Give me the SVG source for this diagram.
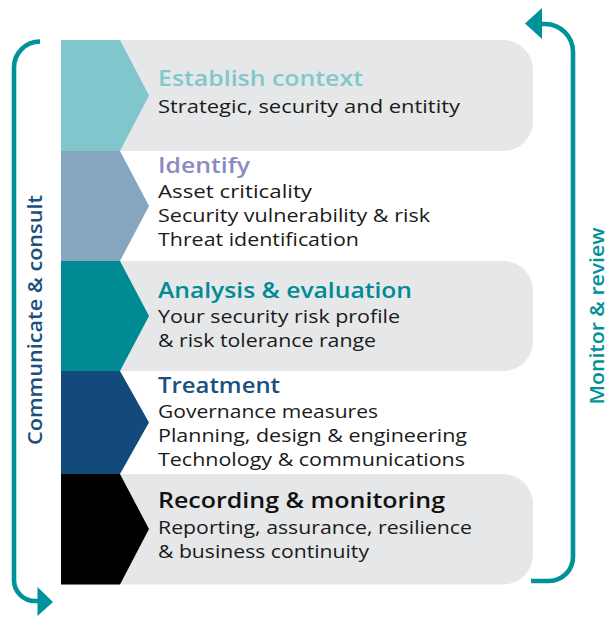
<svg xmlns="http://www.w3.org/2000/svg" width="613" height="617" viewBox="0 0 613 617">
<style>
.bg{fill:#e6e7e8}
.h{font-family:"Open Sans","Liberation Sans",sans-serif;font-size:21px;font-weight:600}
.t{font-family:"Open Sans","Liberation Sans",sans-serif;font-size:18.5px;fill:#1a1a1a}
.side{font-family:"Open Sans","Liberation Sans",sans-serif;font-size:20px;font-weight:600;text-anchor:middle}
.arrow{fill:none;stroke:#00929a;stroke-width:4.6}
</style>
<rect width="613" height="617" fill="#ffffff"/>
<g id="connectors">
<path class="arrow" d="M40 41.5 A26 26 0 0 0 14 67.5 L14 580 A21 21 0 0 0 35 601 L39 601"/>
<polygon points="37.5,587 53,602 37.5,616" fill="#00929a"/>
<path class="arrow" d="M531 581 L549 581 A24 24 0 0 0 573 557 L573 52 A28 28 0 0 0 545 24 L540 24"/>
<polygon points="542,8 525,23.5 542,39" fill="#00929a"/>
</g>
<g id="establish">
<path class="bg" d="M61 40 H503 A30 30 0 0 1 533 70 V121 A30 30 0 0 1 503 151 H61 Z"/>
<polygon points="61,40 120,40 149,95.5 120,151 61,151" fill="#80c6cc"/>
<text class="h" x="158" y="86" fill="#80c8cc" textLength="205" lengthAdjust="spacingAndGlyphs">Establish context</text>
<text class="t" x="158" y="113" textLength="302" lengthAdjust="spacingAndGlyphs">Strategic, security and entitity</text>
</g>
<g id="identify">
<polygon points="61,151 120,151 149,206 120,261 61,261" fill="#86a5be"/>
<text class="h" x="158" y="173" fill="#8b8bc2" textLength="92" lengthAdjust="spacingAndGlyphs">Identify</text>
<text class="t" x="158" y="198" textLength="154" lengthAdjust="spacingAndGlyphs">Asset criticality</text>
<text class="t" x="158" y="222" textLength="272" lengthAdjust="spacingAndGlyphs">Security vulnerability &amp; risk</text>
<text class="t" x="158" y="246" textLength="201" lengthAdjust="spacingAndGlyphs">Threat identification</text>
</g>
<g id="analysis">
<path class="bg" d="M61 261 H503 A30 30 0 0 1 533 291 V341 A30 30 0 0 1 503 371 H61 Z"/>
<polygon points="61,261 120,261 149,316 120,371 61,371" fill="#008b94"/>
<text class="h" x="158" y="298" fill="#008b94" textLength="254" lengthAdjust="spacingAndGlyphs">Analysis &amp; evaluation</text>
<text class="t" x="158" y="323" textLength="242" lengthAdjust="spacingAndGlyphs">Your security risk profile</text>
<text class="t" x="158" y="347" textLength="218" lengthAdjust="spacingAndGlyphs">&amp; risk tolerance range</text>
</g>
<g id="treatment">
<polygon points="61,371 120,371 149,422.5 120,474 61,474" fill="#124a7b"/>
<text class="h" x="158" y="393" fill="#1b4f80" textLength="122" lengthAdjust="spacingAndGlyphs">Treatment</text>
<text class="t" x="158" y="418" textLength="220" lengthAdjust="spacingAndGlyphs">Governance measures</text>
<text class="t" x="158" y="442" textLength="309" lengthAdjust="spacingAndGlyphs">Planning, design &amp; engineering</text>
<text class="t" x="158" y="465.5" textLength="307" lengthAdjust="spacingAndGlyphs">Technology &amp; communications</text>
</g>
<g id="recording">
<path class="bg" d="M61 474 H503 A30 30 0 0 1 533 504 V554.5 A30 30 0 0 1 503 584.5 H61 Z"/>
<polygon points="61,474 120,474 149,529 120,584.5 61,584.5" fill="#000000"/>
<text class="h" x="158" y="508" fill="#111111" textLength="287" lengthAdjust="spacingAndGlyphs">Recording &amp; monitoring</text>
<text class="t" x="158" y="534" textLength="314" lengthAdjust="spacingAndGlyphs">Reporting, assurance, resilience</text>
<text class="t" x="158" y="558" textLength="211" lengthAdjust="spacingAndGlyphs">&amp; business continuity</text>
</g>
<g id="communicate">
<text class="side" transform="translate(42 320) rotate(-90)" fill="#1c4f7c" textLength="250" lengthAdjust="spacingAndGlyphs">Communicate &amp; consult</text>
</g>
<g id="monitor">
<text class="side" transform="translate(604 316) rotate(-90)" fill="#00929a" textLength="177" lengthAdjust="spacingAndGlyphs">Monitor &amp; review</text>
</g>
</svg>
